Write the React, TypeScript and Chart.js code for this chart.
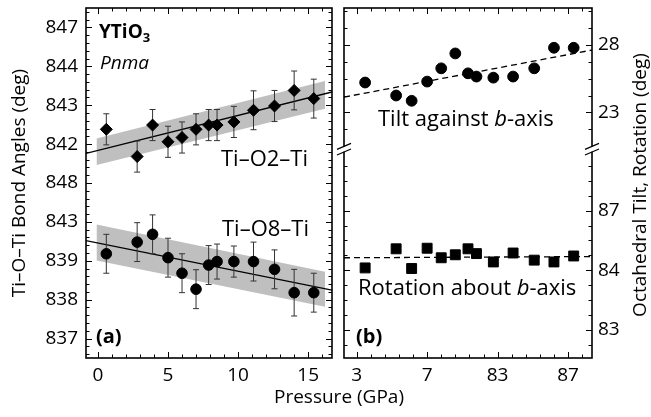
import React, { useEffect, useRef } from 'react';
import { Chart, registerables } from 'chart.js';

Chart.register(...registerables);

// ---------- data ----------
const pressure = [0.6, 2.8, 3.9, 5.0, 6.0, 7.0, 7.9, 8.5, 9.7, 11.1, 12.6, 14.0, 15.4];
// left panel values in axis units (tick index units of the broken, relabelled axis)
const angleO2 = [5.38, 4.68, 5.49, 5.06, 5.17, 5.38, 5.49, 5.49, 5.57, 5.87, 5.98, 6.38, 6.17];
const errO2 = [0.4, 0.4, 0.4, 0.4, 0.4, 0.4, 0.4, 0.4, 0.4, 0.5, 0.4, 0.5, 0.5];
const angleO8 = [2.18, 2.48, 2.68, 2.08, 1.68, 1.27, 1.89, 1.98, 1.98, 1.98, 1.78, 1.18, 1.18];
const errO8 = [0.5, 0.5, 0.5, 0.5, 0.5, 0.5, 0.5, 0.45, 0.4, 0.5, 0.5, 0.6, 0.5];
// right panel
const tilt = [25.21, 24.25, 23.86, 25.28, 26.26, 27.36, 25.89, 25.65, 25.57, 25.65, 26.26, 27.78, 27.78];
const rotation = [1.04, 1.36, 1.03, 1.37, 1.21, 1.26, 1.36, 1.28, 1.14, 1.29, 1.17, 1.14, 1.24];

// fits and confidence bands
const fitP = [-0.85, 16.7];
const fitO2 = [4.76, 6.34];
const fitO8 = [2.52, 1.245];
const bandP = [-0.1, 16.2];
const bandO2Upper = [5.145, 6.62];
const bandO2Lower = [4.465, 5.91];
const bandO8Upper = [2.93, 1.72];
const bandO8Lower = [2.01, 0.82];
const fitPR = [-0.9, 16.7];
const fitTilt = [24.13, 27.61];
const fitRot = [1.21, 1.23];

// ticks
const leftTickValues = [0, 1, 2, 3, 4, 5, 6, 7, 8];
const leftTickLabels = ['837', '838', '839', '843', '848', '842', '843', '844', '847'];
const pressureTickValues = [0, 5, 10, 15];
const leftXLabels = ['0', '5', '10', '15'];
const rightXLabels = ['3', '7', '83', '87'];
const tiltTickValues = [23, 28];
const tiltTickLabels = ['23', '28'];
const rotTickValues = [0, 1, 2];
const rotTickLabels = ['83', '84', '87'];

const FONT = "'Open Sans', 'DejaVu Sans', sans-serif";

const pts = (xs: number[], ys: number[]) => xs.map((x, i) => ({ x, y: ys[i] }));

const fixTicks = (values: number[]) => (scale: any) => {
  scale.ticks = values.map((v) => ({ value: v }));
};
const labelFrom = (values: number[], labels: string[]) => (v: any) => {
  const i = values.indexOf(Number(v));
  return i >= 0 ? labels[i] : '';
};

const errorBars = {
  id: 'errorBars',
  beforeDatasetDraw(chart: any, args: any) {
    const ds = chart.data.datasets[args.index];
    if (!ds.errors) return;
    const xs = chart.scales[ds.xAxisID];
    const ys = chart.scales[ds.yAxisID];
    const ctx = chart.ctx;
    ctx.save();
    ctx.strokeStyle = '#333';
    ctx.lineWidth = 1;
    ds.data.forEach((p: any, i: number) => {
      const e = ds.errors[i];
      const px = xs.getPixelForValue(p.x);
      const y1 = ys.getPixelForValue(p.y + e);
      const y2 = ys.getPixelForValue(p.y - e);
      ctx.beginPath();
      ctx.moveTo(px, y1);
      ctx.lineTo(px, y2);
      ctx.moveTo(px - 3, y1);
      ctx.lineTo(px + 3, y1);
      ctx.moveTo(px - 3, y2);
      ctx.lineTo(px + 3, y2);
      ctx.stroke();
    });
    ctx.restore();
  },
};

function rangeSteps(min: number, max: number, origin: number, step: number) {
  const out: number[] = [];
  const k0 = Math.ceil((min - origin) / step - 1e-9);
  const k1 = Math.floor((max - origin) / step + 1e-9);
  for (let k = k0; k <= k1; k++) out.push(origin + k * step);
  return out;
}

const frameTicks = {
  id: 'frameTicks',
  afterDraw(chart: any) {
    const ctx = chart.ctx;
    const s = chart.scales;
    const top = chart.chartArea.top;
    const bottom = chart.chartArea.bottom;
    const MAJ = 6;
    const MIN = 3.5;
    ctx.save();
    ctx.strokeStyle = '#000';
    ctx.lineCap = 'butt';

    const panels = [
      {
        x: s.xL,
        ys: [{ sc: s.yL, origin: 0, step: 0.2, majorStep: 1 }],
        brk: false,
      },
      {
        x: s.xR,
        ys: [
          { sc: s.yT, origin: 23, step: 1.25, majorStep: 5 },
          { sc: s.yB, origin: 0, step: 0.25, majorStep: 1 },
        ],
        brk: true,
      },
    ];

    panels.forEach((p) => {
      const left = p.x.left;
      const right = p.x.right;
      ctx.lineWidth = 1;
      ctx.beginPath();
      // x ticks
      rangeSteps(p.x.min, p.x.max, 0, 1).forEach((v) => {
        const px = Math.round(p.x.getPixelForValue(v)) + 0.5;
        const len = Math.abs(v % 5) < 1e-6 ? MAJ : MIN;
        ctx.moveTo(px, bottom);
        ctx.lineTo(px, bottom - len);
        ctx.moveTo(px, top);
        ctx.lineTo(px, top + len);
      });
      // y ticks
      p.ys.forEach((y: any) => {
        rangeSteps(y.sc.min, y.sc.max, y.origin, y.step).forEach((v) => {
          const py = Math.round(y.sc.getPixelForValue(v)) + 0.5;
          if (p.brk && Math.abs(py - s.yT.bottom) < 6) return;
          const r = (v - y.origin) / y.majorStep;
          const len = Math.abs(r - Math.round(r)) < 1e-6 ? MAJ : MIN;
          ctx.moveTo(left, py);
          ctx.lineTo(left + len, py);
          ctx.moveTo(right, py);
          ctx.lineTo(right - len, py);
        });
      });
      ctx.stroke();
      // frame
      ctx.lineWidth = 1.6;
      ctx.strokeRect(left, top, right - left, bottom - top);
      if (p.brk) {
        const by = s.yT.bottom;
        [left, right].forEach((bx) => {
          ctx.fillStyle = '#fff';
          ctx.fillRect(bx - 2, by - 2.5, 4, 5);
          ctx.lineWidth = 1.2;
          ctx.beginPath();
          [-2.8, 2.8].forEach((dy) => {
            ctx.moveTo(bx - 7, by + dy + 3);
            ctx.lineTo(bx + 7, by + dy - 3);
          });
          ctx.stroke();
        });
      }
    });
    ctx.restore();
  },
};

function drawRuns(ctx: any, x: number, y: number, runs: { text: string; font: string; dy?: number }[]) {
  let cx = x;
  runs.forEach((r) => {
    ctx.font = r.font;
    ctx.fillText(r.text, cx, y + (r.dy || 0));
    cx += ctx.measureText(r.text).width;
  });
}

const annotations = {
  id: 'annotations',
  afterDraw(chart: any) {
    const ctx = chart.ctx;
    ctx.save();
    ctx.fillStyle = '#000';
    ctx.textBaseline = 'alphabetic';
    ctx.textAlign = 'left';
    drawRuns(ctx, 99, 38, [
      { text: 'YTiO', font: `bold 19px ${FONT}` },
      { text: '3', font: `bold 13px ${FONT}`, dy: 4 },
    ]);
    drawRuns(ctx, 100, 69, [{ text: 'Pnma', font: `italic 19px ${FONT}` }]);
    drawRuns(ctx, 221, 166, [{ text: 'Ti–O2–Ti', font: `22px ${FONT}` }]);
    drawRuns(ctx, 222, 236, [{ text: 'Ti–O8–Ti', font: `22px ${FONT}` }]);
    drawRuns(ctx, 96, 343, [{ text: '(a)', font: `bold 20px ${FONT}` }]);
    drawRuns(ctx, 356, 343, [{ text: '(b)', font: `bold 20px ${FONT}` }]);
    drawRuns(ctx, 378, 126, [
      { text: 'Tilt against ', font: `22px ${FONT}` },
      { text: 'b', font: `italic 22px ${FONT}` },
      { text: '-axis', font: `22px ${FONT}` },
    ]);
    drawRuns(ctx, 358, 295, [
      { text: 'Rotation about ', font: `22px ${FONT}` },
      { text: 'b', font: `italic 22px ${FONT}` },
      { text: '-axis', font: `22px ${FONT}` },
    ]);
    // shared x title
    ctx.font = `19px ${FONT}`;
    ctx.textAlign = 'center';
    ctx.textBaseline = 'middle';
    ctx.fillText('Pressure (GPa)', (chart.scales.xL.left + chart.scales.xR.right) / 2, 398);
    // right y title (reads bottom to top)
    ctx.translate(641, (chart.chartArea.top + chart.chartArea.bottom) / 2 + 2);
    ctx.rotate(-Math.PI / 2);
    ctx.fillText('Octahedral Tilt, Rotation (deg)', 0, 0);
    ctx.restore();
  },
};

const hidden = { display: false, drawTicks: false };

export default function App() {
  const ref = useRef<HTMLCanvasElement>(null);
  useEffect(() => {
    Chart.defaults.font.family = FONT;
    Chart.defaults.color = '#000';
    const lineDs = (label: string, xs: number[], ys: number[], xAxisID: string, yAxisID: string, dash: number[]) => ({
      label,
      data: pts(xs, ys),
      xAxisID,
      yAxisID,
      showLine: true,
      pointRadius: 0,
      borderColor: '#000',
      borderWidth: 1.3,
      borderDash: dash,
      fill: false,
      order: 5,
    });
    const bandDs = (label: string, ys: number[], upper: boolean) => ({
      label,
      data: pts(bandP, ys),
      xAxisID: 'xL',
      yAxisID: 'yL',
      showLine: true,
      pointRadius: 0,
      borderWidth: 0,
      borderColor: 'rgba(0,0,0,0)',
      backgroundColor: '#bfbfbf',
      fill: upper ? '+1' : false,
      order: 10,
    });
    const tickBase = { font: { size: 19 }, color: '#000', autoSkip: false, maxRotation: 0 };
    const chart = new Chart(ref.current as HTMLCanvasElement, {
      type: 'scatter',
      data: {
        datasets: [
          {
            label: 'Ti–O2–Ti',
            data: pts(pressure, angleO2),
            xAxisID: 'xL',
            yAxisID: 'yL',
            pointStyle: 'rectRot',
            pointRadius: 6,
            backgroundColor: '#000',
            borderColor: '#000',
            borderWidth: 1,
            order: 0,
            errors: errO2,
          } as any,
          {
            label: 'Ti–O8–Ti',
            data: pts(pressure, angleO8),
            xAxisID: 'xL',
            yAxisID: 'yL',
            pointStyle: 'circle',
            pointRadius: 5.3,
            backgroundColor: '#000',
            borderColor: '#000',
            borderWidth: 1,
            order: 0,
            errors: errO8,
          } as any,
          {
            label: 'Tilt against b-axis',
            data: pts(pressure, tilt),
            xAxisID: 'xR',
            yAxisID: 'yT',
            pointStyle: 'circle',
            pointRadius: 5.4,
            backgroundColor: '#000',
            borderColor: '#000',
            borderWidth: 1,
            order: 0,
          },
          {
            label: 'Rotation about b-axis',
            data: pts(pressure, rotation),
            xAxisID: 'xR',
            yAxisID: 'yB',
            pointStyle: 'rect',
            pointRadius: 7,
            backgroundColor: '#000',
            borderColor: '#000',
            borderWidth: 1,
            order: 0,
          },
          lineDs('fit O2', fitP, fitO2, 'xL', 'yL', []),
          lineDs('fit O8', fitP, fitO8, 'xL', 'yL', []),
          lineDs('fit tilt', fitPR, fitTilt, 'xR', 'yT', [6, 4]),
          lineDs('fit rotation', fitPR, fitRot, 'xR', 'yB', [6, 4]),
          bandDs('band O2 upper', bandO2Upper, true),
          bandDs('band O2 lower', bandO2Lower, false),
          bandDs('band O8 upper', bandO8Upper, true),
          bandDs('band O8 lower', bandO8Lower, false),
        ] as any,
      },
      options: {
        responsive: false,
        animation: false,
        devicePixelRatio: 1,
        events: [],
        layout: { padding: { left: 0, top: 6, right: 29, bottom: 0 } },
        plugins: { legend: { display: false }, tooltip: { enabled: false }, title: { display: false } },
        scales: {
          yL: {
            type: 'linear',
            position: 'left',
            min: -0.5,
            max: 8.5,
            afterBuildTicks: fixTicks(leftTickValues),
            afterFit: (sc: any) => {
              sc.width = 86;
              sc.paddingTop = 0;
              sc.paddingBottom = 0;
            },
            ticks: { ...tickBase, callback: labelFrom(leftTickValues, leftTickLabels), padding: 8 },
            grid: hidden,
            border: { display: false },
            title: {
              display: true,
              text: 'Ti–O–Ti Bond Angles (deg)',
              font: { size: 19 },
              color: '#000',
              padding: { top: 8, bottom: 0 },
            },
          },
          xL: {
            type: 'linear',
            position: 'bottom',
            stack: 'x',
            stackWeight: 246,
            min: -0.85,
            max: 16.7,
            afterBuildTicks: fixTicks(pressureTickValues),
            afterFit: (sc: any) => {
              sc.height = 59;
              sc.paddingLeft = 0;
              sc.paddingRight = 0;
            },
            ticks: { ...tickBase, callback: labelFrom(pressureTickValues, leftXLabels), padding: 6 },
            grid: hidden,
            border: { display: false },
          },
          xG: {
            type: 'linear',
            position: 'bottom',
            stack: 'x',
            stackWeight: 12,
            min: 0,
            max: 1,
            afterFit: (sc: any) => {
              sc.height = 59;
              sc.paddingLeft = 0;
              sc.paddingRight = 0;
            },
            ticks: { display: false },
            grid: hidden,
            border: { display: false },
          },
          xR: {
            type: 'linear',
            position: 'bottom',
            stack: 'x',
            stackWeight: 248,
            min: -0.9,
            max: 16.7,
            afterBuildTicks: fixTicks(pressureTickValues),
            afterFit: (sc: any) => {
              sc.height = 59;
              sc.paddingLeft = 0;
              sc.paddingRight = 0;
            },
            ticks: { ...tickBase, callback: labelFrom(pressureTickValues, rightXLabels), padding: 6 },
            grid: hidden,
            border: { display: false },
          },
          yT: {
            type: 'linear',
            position: 'right',
            stack: 'r',
            stackWeight: 142,
            min: 20.28,
            max: 30.72,
            afterBuildTicks: fixTicks(tiltTickValues),
            afterFit: (sc: any) => {
              sc.width = 30;
              sc.paddingTop = 0;
              sc.paddingBottom = 0;
            },
            ticks: { ...tickBase, callback: labelFrom(tiltTickValues, tiltTickLabels), padding: 6 },
            grid: hidden,
            border: { display: false },
          },
          yB: {
            type: 'linear',
            position: 'right',
            stack: 'r',
            stackWeight: 210,
            min: -0.47,
            max: 3.03,
            afterBuildTicks: fixTicks(rotTickValues),
            afterFit: (sc: any) => {
              sc.width = 30;
              sc.paddingTop = 0;
              sc.paddingBottom = 0;
            },
            ticks: { ...tickBase, callback: labelFrom(rotTickValues, rotTickLabels), padding: 6 },
            grid: hidden,
            border: { display: false },
          },
        } as any,
      },
      plugins: [errorBars, frameTicks, annotations],
    } as any);
    return () => chart.destroy();
  }, []);
  return (
    <div style={{ position: 'fixed', left: 0, top: 0, width: 651, height: 417, background: '#fff' }}>
      <canvas ref={ref} width={651} height={417} style={{ display: 'block', width: 651, height: 417 }} />
    </div>
  );
}
